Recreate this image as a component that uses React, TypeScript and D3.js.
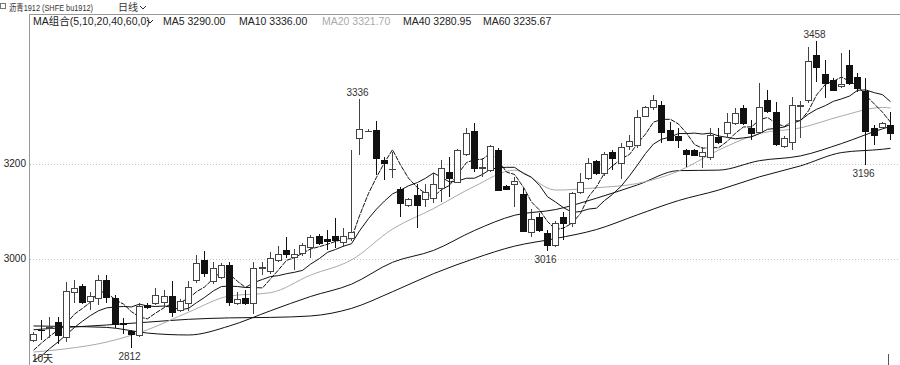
import React from 'react';
import * as d3 from 'd3';

const W = 900;
const H = 365;

const opens = [
  2828, 2850, 2854, 2866, 2835, 2930, 2942, 2911, 2917, 2955,
  2917, 2864, 2847, 2839, 2902, 2906, 2908, 2921, 2892, 2906,
  2955, 2997, 2953, 2961, 2986, 2906, 2917, 2906, 2980, 2974,
  2997, 3018, 3003, 3012, 3024, 3047, 3041, 3047, 3035, 3043,
  3254, 3268, 3271, 3207, 3188, 3146, 3113, 3134, 3125, 3127,
  3148, 3182, 3161, 3220, 3268, 3190, 3186, 3228, 3153, 3157,
  3136, 3056, 3087, 3054, 3028, 3087, 3075, 3140, 3169, 3205,
  3180, 3224, 3201, 3237, 3239, 3300, 3319, 3323, 3271, 3258,
  3228, 3228, 3216, 3214, 3256, 3264, 3285, 3317, 3275, 3266,
  3334, 3308, 3237, 3245, 3321, 3334, 3428, 3388, 3376, 3363,
  3407, 3382, 3353, 3275, 3277, 3281,
];
const closes = [
  2841, 2849, 2856, 2839, 2932, 2938, 2908, 2921, 2955, 2919,
  2862, 2862, 2841, 2900, 2898, 2923, 2921, 2887, 2911, 2940,
  2991, 2970, 2980, 2986, 2908, 2915, 2906, 2980, 2982, 3001,
  3009, 3009, 3009, 3028, 3045, 3033, 3037, 3039, 3047, 3056,
  3273, 3269, 3212, 3201, 3189, 3117, 3125, 3113, 3140, 3157,
  3190, 3169, 3228, 3264, 3190, 3193, 3237, 3144, 3146, 3163,
  3058, 3083, 3060, 3028, 3075, 3075, 3138, 3161, 3201, 3180,
  3220, 3212, 3235, 3247, 3298, 3319, 3334, 3266, 3249, 3249,
  3220, 3218, 3224, 3260, 3245, 3287, 3306, 3285, 3264, 3319,
  3311, 3241, 3254, 3323, 3323, 3416, 3403, 3369, 3355, 3367,
  3369, 3359, 3268, 3260, 3285, 3264,
];
const highs = [
  2845, 2871, 2877, 2877, 2951, 2955, 2946, 2930, 2965, 2965,
  2923, 2875, 2849, 2906, 2906, 2938, 2934, 2953, 2915, 2953,
  3007, 3016, 2993, 2991, 2993, 2930, 2934, 2993, 2993, 3014,
  3026, 3045, 3020, 3033, 3049, 3052, 3060, 3085, 3064, 3228,
  3336, 3272, 3290, 3214, 3224, 3150, 3127, 3157, 3157, 3180,
  3207, 3214, 3230, 3275, 3285, 3212, 3238, 3233, 3155, 3172,
  3148, 3104, 3096, 3060, 3079, 3098, 3140, 3180, 3211, 3207,
  3224, 3228, 3243, 3260, 3313, 3321, 3344, 3332, 3287, 3275,
  3230, 3230, 3235, 3275, 3275, 3306, 3317, 3323, 3292, 3369,
  3355, 3330, 3258, 3340, 3332, 3445, 3458, 3418, 3380, 3433,
  3439, 3390, 3380, 3281, 3287, 3308,
];
const lows = [
  2825, 2828, 2833, 2820, 2824, 2906, 2904, 2892, 2902, 2906,
  2854, 2841, 2812, 2835, 2894, 2902, 2898, 2877, 2887, 2889,
  2948, 2961, 2946, 2957, 2900, 2902, 2902, 2883, 2965, 2967,
  2993, 3001, 2976, 3005, 3001, 3028, 3018, 3022, 3024, 3037,
  3218, 3266, 3176, 3165, 3169, 3087, 3108, 3064, 3108, 3117,
  3119, 3129, 3159, 3216, 3182, 3172, 3182, 3142, 3144, 3108,
  3056, 3045, 3056, 3016, 3024, 3039, 3066, 3136, 3165, 3176,
  3174, 3186, 3167, 3228, 3233, 3298, 3313, 3243, 3247, 3233,
  3193, 3216, 3190, 3207, 3241, 3254, 3281, 3281, 3249, 3262,
  3306, 3237, 3233, 3228, 3254, 3327, 3372, 3338, 3353, 3359,
  3365, 3351, 3196, 3239, 3275, 3249,
];

const ma5 = [
  2807, 2822, 2836, 2850, 2863, 2883, 2895, 2908, 2931, 2928,
  2913, 2904, 2888, 2877, 2873, 2885, 2897, 2906, 2908, 2916,
  2930, 2940, 2958, 2973, 2967, 2952, 2939, 2939, 2938, 2957,
  2976, 2996, 3002, 3011, 3020, 3025, 3030, 3036, 3040, 3042,
  3090, 3137, 3171, 3202, 3229, 3197, 3169, 3149, 3137, 3130,
  3145, 3154, 3177, 3202, 3208, 3209, 3222, 3206, 3182, 3177,
  3150, 3119, 3102, 3078, 3061, 3064, 3075, 3095, 3130, 3151,
  3180, 3195, 3210, 3219, 3242, 3262, 3287, 3293, 3293, 3283,
  3264, 3240, 3232, 3234, 3233, 3247, 3264, 3277, 3277, 3292,
  3297, 3284, 3278, 3290, 3290, 3311, 3344, 3367, 3373, 3382,
  3373, 3364, 3344, 3325, 3308, 3287,
];
const ma10 = [
  2785, 2795, 2810, 2825, 2840, 2855, 2868, 2880, 2890, 2896,
  2898, 2899, 2898, 2904, 2900, 2899, 2900, 2897, 2892, 2895,
  2907, 2918, 2932, 2941, 2942, 2941, 2939, 2949, 2956, 2962,
  2964, 2968, 2971, 2975, 2988, 3000, 3013, 3019, 3026, 3031,
  3058, 3084, 3104, 3121, 3136, 3144, 3153, 3160, 3169, 3180,
  3171, 3161, 3163, 3169, 3169, 3177, 3188, 3191, 3192, 3192,
  3179, 3171, 3154, 3130, 3119, 3107, 3097, 3099, 3104, 3106,
  3122, 3135, 3153, 3174, 3197, 3221, 3241, 3251, 3256, 3263,
  3263, 3264, 3262, 3264, 3258, 3255, 3252, 3254, 3256, 3263,
  3272, 3274, 3277, 3284, 3291, 3304, 3314, 3322, 3331, 3336,
  3342, 3354, 3355, 3349, 3345, 3330,
];

// slow averages read at every 5th bar (1-based bar numbers)
const slowIdx = [1, 5, 10, 15, 20, 25, 30, 35, 40, 45, 50, 55, 60, 65, 70, 75, 80, 85, 90, 95, 100, 105, 106];
const ma20 = [2803, 2810, 2824, 2850, 2887, 2921, 2928, 2965, 2997, 3062, 3105, 3152, 3186, 3144, 3149, 3158, 3184, 3228, 3263, 3275, 3300, 3318, 3317];
const ma40 = [2858, 2857, 2855, 2843, 2839, 2858, 2890, 2920, 2946, 2992, 3017, 3059, 3091, 3103, 3127, 3155, 3185, 3186, 3206, 3216, 3242, 3273, 3278];
const ma60 = [2850, 2855, 2860, 2866, 2872, 2875, 2876, 2879, 2895, 2930, 2968, 3000, 3026, 3042, 3061, 3092, 3122, 3144, 3172, 3195, 3223, 3230, 3232];

const yTicks = [3000, 3200];
const markHighBars = [41, 97];
const markLowBars = [13, 64, 103];

const legendLabels = ['MA组合(5,10,20,40,60,0)', 'MA5 3290.00', 'MA10 3336.00', 'MA20 3321.70', 'MA40 3280.95', 'MA60 3235.67'];
const legendX = [33, 163, 239, 322, 403, 483];
const legendColors = ['#222', '#222', '#222', '#aaa', '#222', '#222'];

const FONT = '"Liberation Sans", Arial, "Noto Sans CJK SC", sans-serif';

export default function App() {
  const n = closes.length;
  const left = 29;
  const x = d3.scaleBand<number>().domain(d3.range(n)).range([left, 894]).paddingInner(0.25).paddingOuter(0.125);
  const y = d3.scaleLinear().domain([3000, 3200]).range([258.5, 163.5]);
  const cx = (i: number) => Math.round(x(i)!) + 3.5;

  const denseLine = d3.line<number>().x((_, i) => cx(i)).y((v) => y(v)).curve(d3.curveLinear);
  const slowLine = d3
    .line<number>()
    .x((_, k) => cx(slowIdx[k] - 1))
    .y((v) => y(v))
    .curve(d3.curveMonotoneX);

  return (
    <svg
      width={W}
      height={H}
      style={{ position: 'fixed', left: 0, top: 0, background: '#fff', fontFamily: FONT }}
    >
      <defs>
        <clipPath id="plot">
          <rect x={left + 1} y={15} width={W - left} height={H - 15} />
        </clipPath>
      </defs>
      <rect x={0} y={0} width={W} height={H} fill="#fff" />

      {/* title row */}
      <rect x={0.5} y={3.5} width={5} height={5} fill="none" stroke="#777" />
      <text x={9} y={11} fontSize={9.5} fill="#333" textLength={84} lengthAdjust="spacingAndGlyphs">
        沥青1912 (SHFE bu1912)
      </text>
      <text x={118} y={11} fontSize={10} fill="#333">
        日线
      </text>
      <path d="M140,6 L143,9 L146,6" fill="none" stroke="#333" strokeWidth={1} />

      {/* frame */}
      <line x1={left} x2={W} y1={14.5} y2={14.5} stroke="#999" />
      <line x1={left + 0.5} x2={left + 0.5} y1={14} y2={H} stroke="#999" />

      {/* legend */}
      {legendLabels.map((t, k) => (
        <text key={t} x={legendX[k]} y={25} fontSize={10.5} fill={legendColors[k]}>
          {t}
        </text>
      ))}
      <path d="M147,20 L150,23 L153,20" fill="none" stroke="#222" strokeWidth={1} />

      {/* grid + y labels */}
      {yTicks.map((t) => (
        <g key={t}>
          <line
            x1={left + 1}
            x2={W}
            y1={Math.round(y(t)) + 0.5}
            y2={Math.round(y(t)) + 0.5}
            stroke="#c4c4c4"
            strokeDasharray="1,2"
          />
          <text x={26} y={y(t) + 3.5} fontSize={10} fill="#222" textAnchor="end">
            {t}
          </text>
        </g>
      ))}

      <g clipPath="url(#plot)">
        {/* moving averages */}
        <path d={slowLine(ma60) || ''} fill="none" stroke="#111" strokeWidth={1} />
        <path d={slowLine(ma40) || ''} fill="none" stroke="#111" strokeWidth={1} />
        <path d={slowLine(ma20) || ''} fill="none" stroke="#aaa" strokeWidth={1} />
        <path d={denseLine(ma10) || ''} fill="none" stroke="#111" strokeWidth={1} />
        <path d={denseLine(ma5) || ''} fill="none" stroke="#111" strokeWidth={1} strokeDasharray="5,1" />

        {/* candles */}
        {closes.map((c, i) => {
          const o = opens[i];
          const up = c >= o;
          const xc = cx(i);
          const x0 = Math.round(x(i)!) + 0.5;
          const top = Math.round(y(Math.max(o, c)));
          const bot = Math.round(y(Math.min(o, c)));
          const hTop = Math.round(y(highs[i]));
          const lBot = Math.round(y(lows[i]));
          const color = up ? '#444' : '#111';
          return (
            <g key={i}>
              <line x1={xc} x2={xc} y1={hTop} y2={lBot} stroke={color} strokeWidth={1} />
              {bot - top < 1 ? (
                <line x1={x0 - 0.5} x2={x0 + 6.5} y1={top + 0.5} y2={top + 0.5} stroke={color} strokeWidth={1} />
              ) : (
                <rect
                  x={x0}
                  y={top + 0.5}
                  width={6}
                  height={bot - top}
                  fill={up ? '#fff' : '#111'}
                  stroke={color}
                  strokeWidth={1}
                />
              )}
            </g>
          );
        })}
      </g>

      {/* extreme markers */}
      {markHighBars.map((b) => (
        <text key={'h' + b} x={cx(b - 1) - 2} y={y(highs[b - 1]) - 3} fontSize={10} fill="#333" textAnchor="middle">
          {highs[b - 1]}
        </text>
      ))}
      {markLowBars.map((b) => (
        <text key={'l' + b} x={cx(b - 1) - 2} y={y(lows[b - 1]) + 12} fontSize={10} fill="#333" textAnchor="middle">
          {lows[b - 1]}
        </text>
      ))}

      {/* bottom labels */}
      <text x={32} y={362} fontSize={10} fill="#222">
        10天
      </text>
      <line x1={888.5} x2={888.5} y1={354} y2={365} stroke="#555" />
    </svg>
  );
}
